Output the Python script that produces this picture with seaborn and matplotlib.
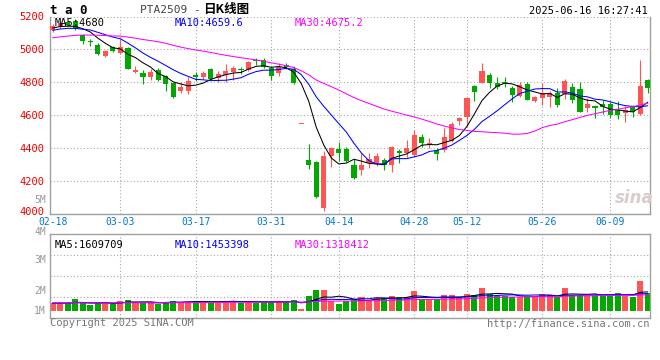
import numpy as np
import pandas as pd
import seaborn as sns
import matplotlib.pyplot as plt
from matplotlib.transforms import ScaledTranslation

# PTA2509 daily bars, 2025-02-18 .. 2025-06-16 (80 sessions)
opens = [5115, 5140, 5165, 5170, 5090, 5052, 5027, 4962, 5013, 4978,
         5010, 4862, 4858, 4835, 4875, 4840, 4795, 4745, 4750, 4845,
         4832, 4882, 4828, 4842, 4865, 4878, 4875, 4935, 4936, 4886,
         4856, 4903, 4882, 4548, 4330, 4318, 4035, 4350, 4392, 4395,
         4298, 4267, 4308, 4312, 4328, 4297, 4380, 4368, 4360, 4466,
         4419, 4390, 4386, 4445, 4567, 4592, 4778, 4798, 4845, 4798,
         4800, 4768, 4717, 4790, 4684, 4703, 4713, 4738, 4728, 4770,
         4758, 4642, 4657, 4670, 4670, 4632, 4612, 4648, 4606, 4815]
highs = [5155, 5170, 5175, 5185, 5095, 5065, 5040, 4995, 5018, 5064,
         5015, 4902, 4872, 4882, 4890, 4845, 4800, 4800, 4830, 4860,
         4870, 4890, 4870, 4912, 4900, 4892, 4932, 4946, 4945, 4900,
         4916, 4916, 4902, 4548, 4425, 4320, 4385, 4405, 4440, 4410,
         4332, 4368, 4372, 4372, 4338, 4413, 4393, 4450, 4510, 4486,
         4460, 4399, 4520, 4561, 4591, 4713, 4784, 4920, 4859, 4830,
         4835, 4778, 4804, 4800, 4720, 4794, 4748, 4764, 4819, 4794,
         4804, 4703, 4662, 4693, 4683, 4689, 4657, 4662, 4936, 4819]
lows = [5105, 5130, 5140, 5120, 5035, 5018, 4965, 4955, 4985, 4970,
        4880, 4855, 4790, 4815, 4810, 4745, 4705, 4735, 4730, 4810,
        4822, 4815, 4800, 4800, 4815, 4850, 4870, 4905, 4888, 4812,
        4840, 4882, 4790, 4548, 4273, 4095, 4016, 4285, 4325, 4315,
        4212, 4237, 4277, 4292, 4268, 4257, 4308, 4348, 4350, 4405,
        4399, 4328, 4379, 4440, 4540, 4535, 4689, 4794, 4768, 4758,
        4770, 4683, 4713, 4690, 4680, 4663, 4652, 4652, 4697, 4673,
        4620, 4622, 4582, 4608, 4582, 4575, 4561, 4588, 4600, 4738]
closes = [5145, 5160, 5150, 5125, 5050, 5045, 4973, 4993, 4990, 5013,
          4882, 4872, 4835, 4862, 4815, 4790, 4713, 4770, 4806, 4835,
          4855, 4822, 4850, 4870, 4886, 4872, 4926, 4930, 4892, 4838,
          4892, 4893, 4795, 4548, 4295, 4102, 4354, 4400, 4370, 4322,
          4217, 4297, 4332, 4352, 4298, 4408, 4370, 4398, 4480, 4434,
          4429, 4362, 4466, 4546, 4581, 4707, 4744, 4869, 4795, 4772,
          4793, 4724, 4784, 4694, 4713, 4733, 4738, 4663, 4808, 4694,
          4622, 4669, 4643, 4648, 4602, 4603, 4632, 4617, 4778, 4765]
# volume, million lots
volumes = [1.30, 1.30, 1.30, 1.47, 1.30, 1.23, 1.30, 1.36, 1.26, 1.40,
           1.43, 1.30, 1.36, 1.30, 1.26, 1.36, 1.40, 1.36, 1.36, 1.36,
           1.36, 1.36, 1.36, 1.40, 1.40, 1.30, 1.40, 1.30, 1.36, 1.36,
           1.36, 1.36, 1.43, 1.08, 1.58, 1.82, 1.82, 1.39, 1.27, 1.39,
           1.43, 1.56, 1.43, 1.49, 1.49, 1.58, 1.53, 1.56, 1.78, 1.43,
           1.43, 1.46, 1.62, 1.62, 1.49, 1.66, 1.62, 1.89, 1.66, 1.60,
           1.58, 1.56, 1.56, 1.53, 1.58, 1.66, 1.62, 1.53, 1.89, 1.62,
           1.62, 1.58, 1.62, 1.62, 1.62, 1.71, 1.58, 1.56, 2.17, 1.70]

# sessions before 02-18, only used to start the moving averages
prior_closes = [4990, 5005, 4985, 5010, 5030, 5020, 5045, 5060, 5040, 5065,
                5080, 5070, 5050, 5035, 5060, 5085, 5100, 5090, 5075, 5060,
                5080, 5110, 5125, 5105, 5090, 5115, 5140, 5130, 5120]
prior_volumes = [1.32, 1.28, 1.35, 1.30, 1.27, 1.33, 1.36, 1.29, 1.31, 1.34,
                 1.30, 1.26, 1.33, 1.38, 1.31, 1.29, 1.35, 1.32, 1.28, 1.30,
                 1.34, 1.31, 1.27, 1.33, 1.36, 1.30, 1.29, 1.32, 1.31]

date_ticks = [0, 9, 19, 29, 38, 48, 55, 65, 74]
date_labels = ['02-18', '03-03', '03-17', '03-31', '04-14', '04-28', '05-12', '05-26', '06-09']
price_ticks = [4000, 4200, 4400, 4600, 4800, 5000, 5200]

RED = '#ff5555'
GREEN = '#00a800'
GRID = '#a8a8a8'
SPINE = '#a0a0a0'

sns.set_theme(style='white')
plt.rcParams['font.family'] = ['DejaVu Sans Mono', 'Noto Sans CJK SC']

df = pd.DataFrame({'open': opens, 'high': highs, 'low': lows,
                   'close': closes, 'volume': volumes})
df['x'] = np.arange(len(df))
n_prior = len(prior_closes)
all_close = pd.Series(prior_closes + closes)
all_vol = pd.Series(prior_volumes + volumes)
for w in (5, 10, 30):
    df[f'ma{w}'] = all_close.rolling(w).mean().iloc[n_prior:].values
    df[f'vma{w}'] = all_vol.rolling(w).mean().iloc[n_prior:].values
up = df['close'] >= df['open']
colors = np.where(up, RED, GREEN)

W, H = 660, 360
fig = plt.figure(figsize=(W / 100, H / 100), dpi=100)


def px_axes(left, top, right, bottom):
    return fig.add_axes([left / W, 1 - bottom / H, (right - left) / W, (bottom - top) / H])


def ptext(x, y, s, **kw):
    fig.text(x / W, 1 - y / H, s, **kw)


ax = px_axes(50, 16.5, 650, 214)
axv = px_axes(50, 234, 650, 318)
xlim = (-0.35, 79.3)

# --- price panel
for t in date_ticks[1:]:
    ax.axvline(t, color=GRID, lw=0.8, ls=(0, (1, 2)), zorder=0)
for p in price_ticks[1:]:
    ax.axhline(p, color=GRID, lw=0.8, ls=(0, (1, 2)), zorder=0)

ax.vlines(df['x'], df['low'], df['high'], colors=colors, lw=0.8, zorder=2)
body = (df['close'] - df['open']).abs().clip(lower=6)
ax.bar(df['x'], body, bottom=np.minimum(df['open'], df['close']), width=0.68,
       color=colors, lw=0, zorder=3)

sns.lineplot(data=df, x='x', y='ma5', ax=ax, color='black', linewidth=0.75, zorder=4)
sns.lineplot(data=df, x='x', y='ma10', ax=ax, color='#0000ff', linewidth=0.75, zorder=4)
sns.lineplot(data=df, x='x', y='ma30', ax=ax, color='#ff00ff', linewidth=0.75, zorder=4)

ax.set_xlim(*xlim)
ax.set_ylim(4000, 5200)
ax.set_yticks(price_ticks)
ax.set_yticklabels([str(p) for p in price_ticks])
ax.set_xticks(date_ticks)
ax.set_xticklabels(date_labels)
ax.tick_params(axis='y', length=0, pad=4, labelsize=7.5, labelcolor='#ee0000')
ax.tick_params(axis='x', length=0, pad=2.5, labelsize=7, labelcolor='#0077cc')
ax.set_xlabel('')
ax.set_ylabel('')
ax.spines['top'].set_visible(False)
for s in ('left', 'right', 'bottom'):
    ax.spines[s].set_color(SPINE)
    ax.spines[s].set_linewidth(1.0)
# the bottom price label sits a little above its gridline, as in the original
lab0 = ax.yaxis.get_major_ticks()[0].label1
lab0.set_transform(lab0.get_transform() + ScaledTranslation(0, 0.03, fig.dpi_scale_trans))

# --- volume panel
vlo, vhi = 0.727, 4.0
for t in date_ticks[1:]:
    axv.axvline(t, color=GRID, lw=0.8, ls=(0, (1, 2)), zorder=0)
for v in np.linspace(vlo, vhi, 5)[1:-1]:
    axv.axhline(v, color=GRID, lw=0.8, ls=(0, (1, 2)), zorder=0)
axv.bar(df['x'], df['volume'] - 1.0, bottom=1.0, width=0.8, color=colors, lw=0, zorder=2)
sns.lineplot(data=df, x='x', y='vma5', ax=axv, color='black', linewidth=0.75, zorder=4)
sns.lineplot(data=df, x='x', y='vma10', ax=axv, color='#0000ff', linewidth=0.75, zorder=4)
sns.lineplot(data=df, x='x', y='vma30', ax=axv, color='#ff00ff', linewidth=0.75, zorder=4)
axv.set_xlim(*xlim)
axv.set_ylim(vlo, vhi)
axv.set_xticks([])
axv.set_yticks([])
axv.set_xlabel('')
axv.set_ylabel('')
for s in axv.spines.values():
    s.set_color(SPINE)
    s.set_linewidth(1.0)

# --- texts
fs = 7.5
ptext(50, 11, 't a 0', fontsize=9, weight='bold', color='black', va='center')
ptext(140, 10, 'PTA2509 -', fontsize=fs + 0.5, color='#444444', va='center')
ptext(203, 10, '日K线图', fontsize=9, weight='bold', color='black', va='center',
      family=['Noto Sans CJK SC'])
ptext(648, 11, '2025-06-16 16:27:41', fontsize=fs, color='black', va='center', ha='right')

ptext(55, 23.5, 'MA5:4680', fontsize=fs, color='black', va='center')
ptext(175, 23.5, 'MA10:4659.6', fontsize=fs, color='#0000ff', va='center')
ptext(295, 23.5, 'MA30:4675.2', fontsize=fs, color='#ff00ff', va='center')

ptext(55, 245, 'MA5:1609709', fontsize=fs, color='black', va='center')
ptext(175, 245, 'MA10:1453398', fontsize=fs, color='#0000ff', va='center')
ptext(295, 245, 'MA30:1318412', fontsize=fs, color='#ff00ff', va='center')

for lab, yy in (('5M', 200), ('4M', 231.5), ('3M', 260), ('2M', 291), ('1M', 311)):
    ptext(46, yy, lab, fontsize=7, color='#999999', va='center', ha='right')

ptext(50, 323, 'Copyright 2025 SINA.COM', fontsize=fs, color='#777777', va='center')
ptext(650, 324, 'http://finance.sina.com.cn', fontsize=fs, color='#777777', va='center', ha='right')
ptext(634, 198, 'sina', fontsize=12, style='italic', weight='bold', color='#d8cccc',
      va='center', ha='center', family=['DejaVu Sans'])

fig.savefig('out.png', dpi=100)
